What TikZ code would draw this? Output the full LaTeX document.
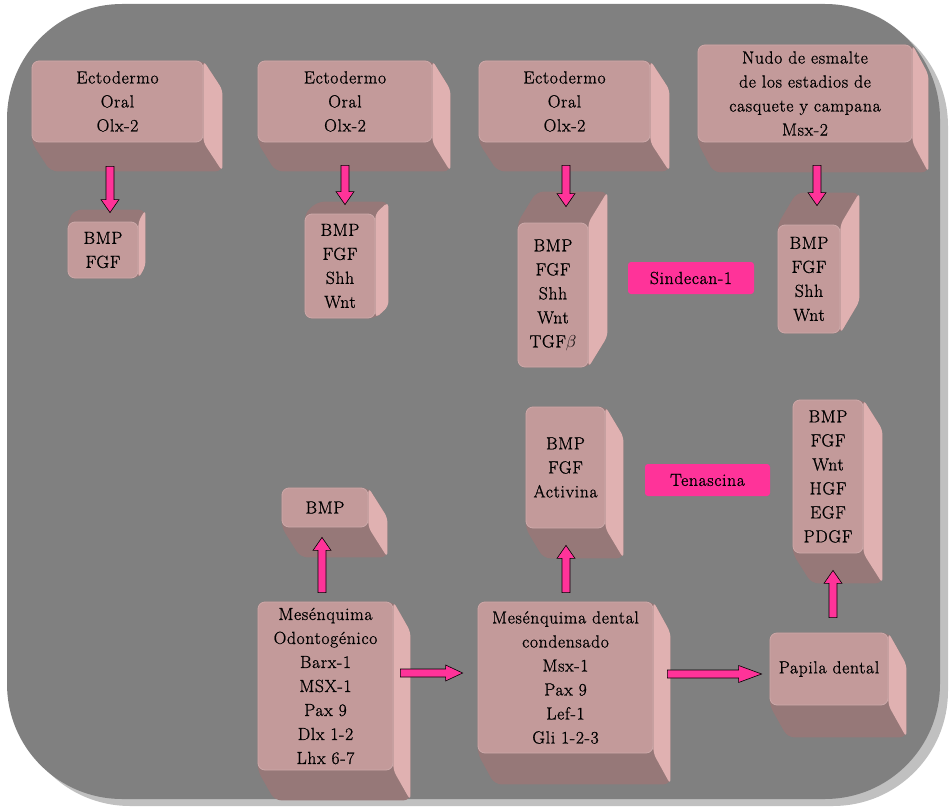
\documentclass[tikz,border=0pt]{standalone}
\usepackage{fontspec}
\usepackage{tikz}
\usetikzlibrary{calc,backgrounds}
\newfontfamily\boxfont{Latin Modern Roman}[FakeBold=1, LetterSpace=4]
\definecolor{bggray}{RGB}{128,128,128}
\definecolor{shadowgray}{RGB}{192,192,192}
\definecolor{frontpink}{RGB}{195,154,154}
\definecolor{sidepink}{RGB}{224,177,177}
\definecolor{facedark}{RGB}{150,120,120}
\definecolor{tagpink}{RGB}{255,51,153}

\begin{document}
\begin{tikzpicture}[x=1pt, y=-1pt,
	every node/.style={font=\boxfont\fontsize{17.5}{24}\selectfont, text=black},
	cubefront/.style={fill=frontpink, draw=frontpink!85!white, line width=0.8pt, rounded corners=7pt, align=center, inner sep=2pt},
	tagbox/.style={fill=tagpink, rounded corners=3pt, minimum height=32pt, inner sep=2pt},
	shafthw/.store in=\shafthw, headhw/.store in=\headhw, headlen/.store in=\headlen,
	shafthw=4pt, headhw=9pt, headlen=13pt,
	blockarrow/.style={draw=black, fill=tagpink, line width=0.6pt, to path={
		($(\tikztotarget)!\headlen!(\tikztostart)$) coordinate (ah)
		($(\tikztostart)!\shafthw!90:(\tikztotarget)$) -- ($(ah)!\shafthw!90:(\tikztotarget)$)
		-- ($(ah)!\headhw!90:(\tikztotarget)$) -- (\tikztotarget)
		-- ($(ah)!\headhw!-90:(\tikztotarget)$) -- ($(ah)!\shafthw!-90:(\tikztotarget)$)
		-- ($(\tikztostart)!\shafthw!-90:(\tikztotarget)$) -- cycle}}]
	\useasboundingbox (0,0) rectangle (951,808);

	% top row
	\node[cubefront, minimum width=171pt, minimum height=81pt] (ecto1) at (117.5,101.5) {Ectodermo\\Oral\\Olx-2};
	\node[cubefront, minimum width=174pt, minimum height=81pt] (ecto2) at (345,101.5) {Ectodermo\\Oral\\Olx-2};
	\node[cubefront, minimum width=171pt, minimum height=81pt] (ecto3) at (564.5,101.5) {Ectodermo\\Oral\\Olx-2};
	\node[cubefront, minimum width=214pt, minimum height=97pt] (nudo) at (805,93.5) {Nudo de esmalte\\de los estadios de\\casquete y campana\\Msx-2};

	\node[cubefront, minimum width=70pt, minimum height=56pt] (bmp1) at (103,250) {BMP\\FGF};
	\node[cubefront, minimum width=70pt, minimum height=104pt] (bmp2) at (340,266) {BMP\\FGF\\Shh\\Wnt};
	\node[cubefront, minimum width=70pt, minimum height=144pt] (bmp3) at (553,295) {BMP\\FGF\\Shh\\Wnt\\TGF$\beta$};
	\node[cubefront, minimum width=62pt, minimum height=108pt] (bmp4) at (809,279) {BMP\\FGF\\Shh\\Wnt};
	\node[tagbox, minimum width=126pt] (sindecan) at (691,278) {Sindecan-1};

	% bottom row
	\node[cubefront, minimum width=86pt, minimum height=39pt] (bmpm) at (325,507.5) {BMP};
	\node[cubefront, minimum width=135pt, minimum height=168pt] (mesodonto) at (325.5,686) {Mesénquima\\Odontogénico\\Barx-1\\MSX-1\\Pax 9\\Dlx 1-2\\Lhx 6-7};
	\node[cubefront, minimum width=79pt, minimum height=121pt] (activina) at (565.5,467.5) {BMP\\FGF\\Activina};
	\node[tagbox, minimum width=125pt] (tenascina) at (707.5,480) {Tenascina};
	\node[cubefront, minimum width=175pt, minimum height=151pt] (mesdental) at (565.5,677.5) {Mesénquima dental\\condensado\\Msx-1\\Pax 9\\Lef-1\\Gli 1-2-3};
	\node[cubefront, minimum width=70pt, minimum height=153pt] (pdgf) at (828,476.5) {BMP\\FGF\\Wnt\\HGF\\EGF\\PDGF};
	\node[cubefront, minimum width=118pt, minimum height=72pt] (papila) at (829,669) {Papila dental};

	% arrows
	\draw[blockarrow] ([shift={(-7.5,24)}]ecto1.south) to ([shift={(7,-9)}]bmp1.north);
	\draw[blockarrow] ([shift={(0,23)}]ecto2.south) to ([shift={(5,-9)}]bmp2.north);
	\draw[blockarrow] ([shift={(1.5,23)}]ecto3.south) to ([shift={(13,-16)}]bmp3.north);
	\draw[blockarrow] ([shift={(12,23)}]nudo.south) to ([shift={(8,-19)}]bmp4.north);
	\draw[blockarrow] ([shift={(-3.5,-9)}]mesodonto.north) to ([shift={(-3,10)}]bmpm.south);
	\draw[blockarrow] ([shift={(0.5,-9)}]mesdental.north) to ([shift={(0.5,17)}]activina.south);
	\draw[blockarrow] ([shift={(4,-15)}]papila.north) to ([shift={(5,17)}]pdgf.south);
	\draw[blockarrow, headlen=17pt, headhw=8pt] ([shift={(7,-13)}]mesodonto.east) to ([shift={(-15,-4.5)}]mesdental.west);
	\draw[blockarrow, headlen=23pt, headhw=8.5pt] ([shift={(14,-3.5)}]mesdental.east) to ([shift={(-8,5)}]papila.west);

	\begin{scope}[on background layer]
		\fill[shadowgray, rounded corners=115pt] (15,11) rectangle (948,806);
		\fill[bggray, rounded corners=115pt] (7,4) rectangle (940,799);
		% depth going down and right
		\foreach \n/\dx/\dy in {ecto1/19/29, ecto2/18/29, ecto3/19/29, nudo/16/30, bmpm/19/30, mesodonto/17/30, activina/18/30, mesdental/17/31, pdgf/19/30, papila/18/32}{
			\fill[facedark, rounded corners=7pt] (\n.north west) -- (\n.north east) -- ([shift={(\dx,\dy)}]\n.north east) -- ([shift={(\dx,\dy)}]\n.south east) -- ([shift={(\dx,\dy)}]\n.south west) -- (\n.south west) -- cycle;
			\fill[sidepink, rounded corners=5pt] (\n.north east) -- ([shift={(\dx,\dy)}]\n.north east) -- ([shift={(\dx,\dy)}]\n.south east) -- (\n.south east) -- cycle;
		}
		% depth going up and right
		\foreach \n/\dx/\dy in {bmp1/7/-12, bmp2/13/-12, bmp3/19/-31, bmp4/19/-32}{
			\fill[facedark, rounded corners=7pt] (\n.south west) -- (\n.north west) -- ([shift={(\dx,\dy)}]\n.north west) -- ([shift={(\dx,\dy)}]\n.north east) -- ([shift={(\dx,\dy)}]\n.south east) -- (\n.south east) -- cycle;
			\fill[sidepink, rounded corners=5pt] (\n.north east) -- ([shift={(\dx,\dy)}]\n.north east) -- ([shift={(\dx,\dy)}]\n.south east) -- (\n.south east) -- cycle;
		}
	\end{scope}
\end{tikzpicture}
\end{document}
